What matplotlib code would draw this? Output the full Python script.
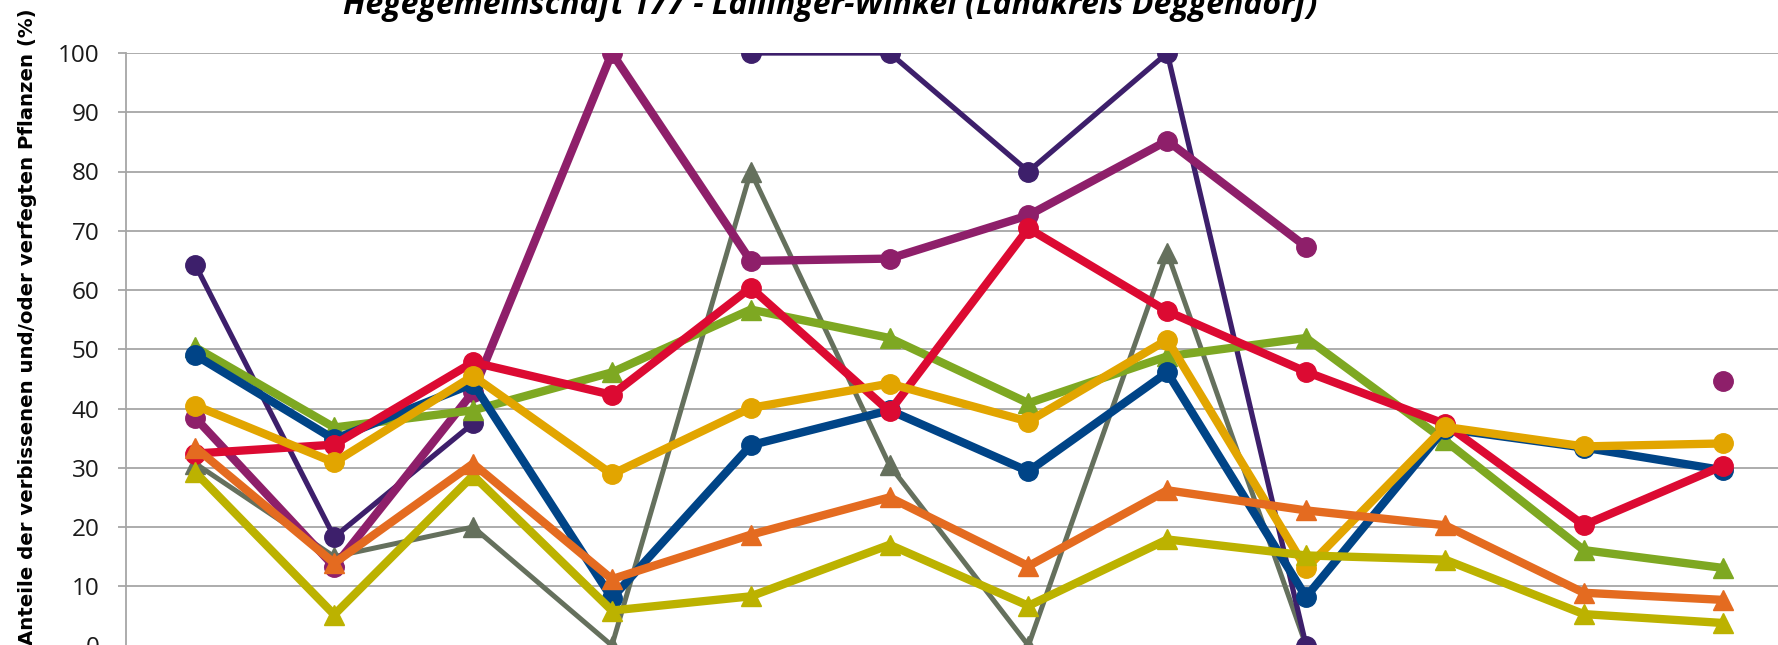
import matplotlib.pyplot as plt
import numpy as np

nan = np.nan

# 12 Aufnahmen (x-Achse im Original abgeschnitten)
categories = list(range(12))

# Werte in %
gray_vals = [30.7, 15.0, 20.0, 0.0, 80.0, 30.4, 0.0, 66.3, 0.0, nan, nan, nan]
purple_vals = [64.2, 18.3, 37.5, nan, 100.0, 100.0, 80.0, 100.0, 0.0, nan, nan, nan]
magenta_vals = [38.4, 13.3, 42.8, 100.0, 64.9, 65.3, 72.6, 85.2, 67.3, nan, nan, 44.7]
green_vals = [50.3, 36.8, 39.7, 46.1, 56.7, 51.9, 40.9, 48.8, 51.9, 34.6, 16.1, 13.1]
blue_vals = [49.0, 34.8, 44.2, 8.0, 33.8, 39.7, 29.4, 46.1, 8.2, 36.6, 33.4, 29.6]
red_vals = [32.4, 33.9, 47.8, 42.3, 60.4, 39.5, 70.4, 56.4, 46.2, 37.4, 20.3, 30.3]
gold_vals = [40.5, 30.9, 45.5, 28.9, 40.1, 44.2, 37.8, 51.6, 13.0, 36.9, 33.6, 34.1]
olive_vals = [29.2, 5.2, 28.7, 5.9, 8.3, 17.0, 6.7, 17.9, 15.2, 14.5, 5.3, 3.8]
orange_vals = [33.4, 13.9, 30.7, 11.2, 18.7, 25.0, 13.4, 26.2, 22.8, 20.3, 8.9, 7.7]

# (werte, farbe, marker, linienbreite) in Zeichenreihenfolge
series = [
    (gray_vals, '#65705d', '^', 3.6),
    (purple_vals, '#3d1f6b', 'o', 3.8),
    (magenta_vals, '#8e1f6a', 'o', 6.0),
    (green_vals, '#7ea822', '^', 6.0),
    (blue_vals, '#004487', 'o', 6.0),
    (red_vals, '#dc0a32', 'o', 6.0),
    (gold_vals, '#e2a500', 'o', 6.0),
    (olive_vals, '#bcb200', '^', 6.0),
    (orange_vals, '#e46b20', '^', 6.0),
]

fig = plt.figure(figsize=(17.78, 6.45), dpi=100)
ax = fig.add_axes([126 / 1778, -0.5 / 645, 1666 / 1778, 592.5 / 645])

x = np.arange(len(categories))
for vals, col, mk, lw in series:
    ax.plot(x, vals, color=col, linewidth=lw, marker=mk, markersize=14,
            markeredgecolor=col, markerfacecolor=col, solid_joinstyle='miter')

ax.set_xlim(-0.5, len(categories) - 0.5)
ax.set_ylim(0, 100)
ax.set_yticks(np.arange(0, 101, 10))
ax.grid(axis='y', color='#a6a6a6', linewidth=1.3)
ax.set_axisbelow(True)
for s in ['top', 'right', 'bottom']:
    ax.spines[s].set_visible(False)
ax.spines['left'].set_color('#a6a6a6')
ax.spines['left'].set_linewidth(1.3)
ax.tick_params(axis='y', length=6, width=1.3, color='#a6a6a6', pad=13,
               labelsize=17.5, labelcolor='#1a1a1a')
ax.tick_params(axis='x', bottom=False, labelbottom=False)
for lbl in ax.get_yticklabels():
    lbl.set_family(['Open Sans', 'DejaVu Sans'])

fig.text(28 / 1778, 0.494, 'Anteile der verbissenen und/oder verfegten Pflanzen (%)',
         rotation=90, ha='center', va='center', fontsize=14.2, fontweight='bold',
         family=['DejaVu Sans'])

fig.text(830 / 1778, 1 - 14 / 645,
         'Hegegemeinschaft 177 - Lallinger-Winkel (Landkreis Deggendorf)',
         ha='center', va='baseline', fontsize=23, fontweight='bold', style='italic',
         family=['Open Sans', 'DejaVu Sans'])

fig.savefig('out.png', dpi=100)
